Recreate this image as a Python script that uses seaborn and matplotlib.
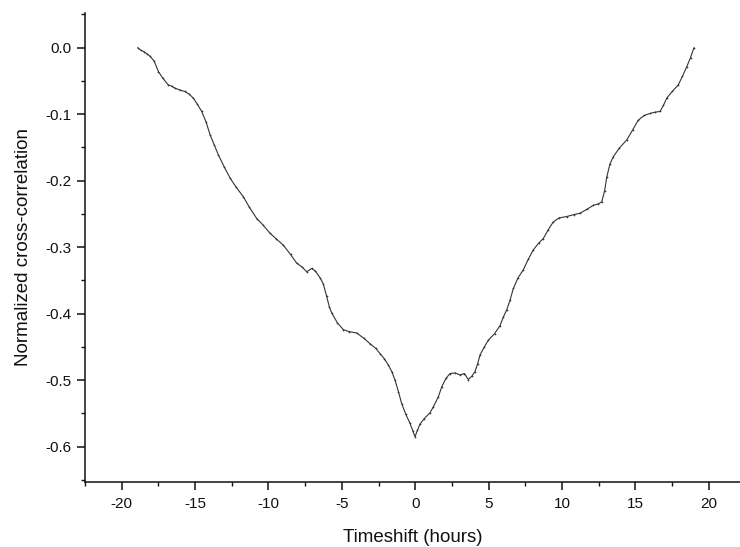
import matplotlib
matplotlib.use("Agg")
import matplotlib.pyplot as plt
from matplotlib.ticker import MultipleLocator
import seaborn as sns
import pandas as pd

# Cross-correlation versus time shift
timeshift = [
    -18.91, -18.7, -18.5, -18.3, -18.07, -17.8, -17.5, -17.2, -16.83, -16.6,
    -16.37, -16.0, -15.69, -15.4, -15.12, -14.85, -14.55, -14.25, -13.98, -13.7,
    -13.42, -13.0, -12.62, -12.2, -11.72, -11.3, -10.8, -10.4, -9.9, -9.5,
    -8.99, -8.5, -8.08, -7.7, -7.4, -7.06, -6.8, -6.49, -6.27, -6.04,
    -5.85, -5.69, -5.3, -4.9, -4.5, -3.99, -3.5, -3.09, -2.7, -2.4,
    -2.1, -1.84, -1.6, -1.38, -1.15, -0.93, -0.65, -0.36, -0.15, -0.02,
    0.15, 0.32, 0.6, 1.0, 1.23, 1.57, 1.8, 2.1, 2.36, 2.7,
    3.04, 3.35, 3.61, 3.85, 4.07, 4.25, 4.41, 4.7, 4.97, 5.4,
    5.77, 6.0, 6.23, 6.45, 6.68, 7.0, 7.36, 7.7, 8.04, 8.4,
    8.72, 9.05, 9.4, 9.8, 10.31, 10.8, 11.22, 11.7, 12.13, 12.45,
    12.7, 12.9, 13.04, 13.26, 13.49, 13.9, 14.4, 14.8, 15.19, 15.6,
    15.99, 16.35, 16.67, 16.9, 17.13, 17.5, 17.92, 18.2, 18.49, 18.75,
    18.99,
]
correlation = [
    0.000, -0.004, -0.006, -0.009, -0.013, -0.020, -0.036, -0.046, -0.056, -0.058,
    -0.061, -0.064, -0.066, -0.070, -0.076, -0.085, -0.096, -0.112, -0.131, -0.146,
    -0.161, -0.180, -0.196, -0.210, -0.224, -0.240, -0.257, -0.266, -0.279, -0.287,
    -0.297, -0.311, -0.324, -0.330, -0.337, -0.332, -0.336, -0.346, -0.355, -0.374,
    -0.390, -0.399, -0.414, -0.424, -0.427, -0.429, -0.437, -0.445, -0.452, -0.460,
    -0.468, -0.477, -0.487, -0.500, -0.517, -0.535, -0.551, -0.565, -0.577, -0.585,
    -0.575, -0.566, -0.558, -0.549, -0.540, -0.525, -0.510, -0.497, -0.490, -0.489,
    -0.492, -0.490, -0.499, -0.494, -0.487, -0.475, -0.462, -0.450, -0.440, -0.430,
    -0.418, -0.405, -0.394, -0.380, -0.362, -0.346, -0.334, -0.318, -0.304, -0.294,
    -0.287, -0.274, -0.262, -0.256, -0.254, -0.251, -0.249, -0.243, -0.237, -0.235,
    -0.232, -0.215, -0.195, -0.175, -0.164, -0.151, -0.139, -0.124, -0.109, -0.102,
    -0.099, -0.097, -0.096, -0.087, -0.076, -0.066, -0.056, -0.043, -0.029, -0.015,
    0.000,
]
xticks = [-20, -15, -10, -5, 0, 5, 10, 15, 20]
yticks = [0.0, -0.1, -0.2, -0.3, -0.4, -0.5, -0.6]

df = pd.DataFrame({"Timeshift": timeshift, "Correlation": correlation})

sns.set_theme(style="ticks")
plt.rcParams["font.family"] = ["Liberation Sans", "DejaVu Sans"]

fig = plt.figure(figsize=(7.4, 5.47), dpi=100)
ax = fig.add_axes([85 / 740, 65 / 547, 655 / 740, 469 / 547])

sns.lineplot(data=df, x="Timeshift", y="Correlation", ax=ax,
             color="#333333", linewidth=0.8, marker=".", markersize=2.5,
             markeredgewidth=0, sort=False)

ax.set_xlim(-22.5, 22.12)
ax.set_ylim(-0.653, 0.052)
ax.set_xticks(xticks)
ax.set_yticks(yticks)
ax.set_xticklabels([str(t) for t in xticks])
ax.set_yticklabels([f"{t:.1f}" for t in yticks])
ax.xaxis.set_minor_locator(MultipleLocator(2.5))
ax.yaxis.set_minor_locator(MultipleLocator(0.05))

for s in ("top", "right"):
    ax.spines[s].set_visible(False)
for s in ("left", "bottom"):
    ax.spines[s].set_linewidth(1.1)
    ax.spines[s].set_color("#111111")

ax.tick_params(axis="both", which="major", direction="out", length=6,
               width=1.1, color="#111111", labelsize=11, labelcolor="#111111")
ax.tick_params(axis="x", which="major", pad=5)
ax.tick_params(axis="y", which="major", pad=4)
ax.tick_params(axis="both", which="minor", direction="out", length=3,
               width=1.0, color="#111111")

ax.set_xlabel("Timeshift (hours)", fontsize=13.5, color="#111111", labelpad=13)
ax.set_ylabel("Normalized cross-correlation", fontsize=13.5, color="#111111", labelpad=9)
ax.grid(False)

fig.savefig("out.png", dpi=100, facecolor="white")
